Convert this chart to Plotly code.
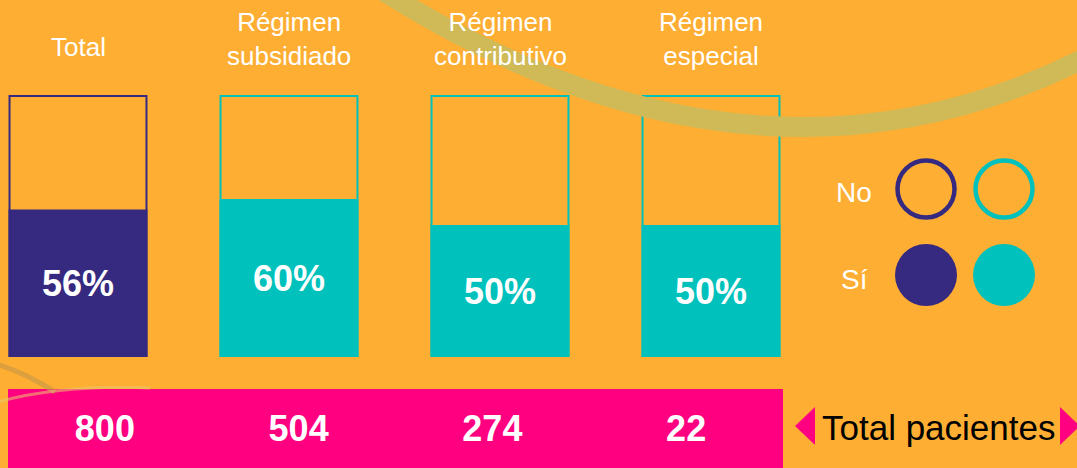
import plotly.graph_objects as go

# ---------------- data ----------------
categories = ["Total", "Régimen subsidiado", "Régimen contributivo", "Régimen especial"]
si_pct = [56, 60, 50, 50]
total_pacientes = [800, 504, 274, 22]
legend_labels = ["No", "Sí"]
footer_label = "Total pacientes"

# ---------------- styles ----------------
ORANGE = "#FDAE33"
PURPLE = "#352980"
TEAL = "#00C1BC"
PINK = "#FF0080"
BAND = "#CFBA57"
FONT = "Arial, Liberation Sans, sans-serif"
W, H = 1077, 468
bar_colors = [PURPLE, TEAL, TEAL, TEAL]

fig = go.Figure()

# filled ("Sí") portion
fig.add_trace(go.Bar(
    x=categories, y=si_pct,
    marker=dict(color=bar_colors, line=dict(color=bar_colors, width=2)),
    text=[f"{v}%" for v in si_pct], textposition="inside",
    insidetextanchor="middle", textangle=0,
    textfont=dict(family=FONT, size=36, color="white", weight="bold"),
    hoverinfo="skip", xaxis="x", yaxis="y",
))
# outline (100 %)
fig.add_trace(go.Bar(
    x=categories, y=[100] * len(categories),
    marker=dict(color="rgba(0,0,0,0)", line=dict(color=bar_colors, width=2)),
    hoverinfo="skip", xaxis="x", yaxis="y",
))

# pink band with patient totals
fig.add_trace(go.Bar(
    x=categories, y=[1] * len(categories), width=1.0,
    marker=dict(color=PINK, line=dict(color=PINK, width=1)),
    text=[str(v) for v in total_pacientes], textposition="inside",
    insidetextanchor="middle", textangle=0,
    textfont=dict(family=FONT, size=36, color="white", weight="bold"),
    hoverinfo="skip", xaxis="x2", yaxis="y2",
))

# legend circles (overlay pixel axis)
fig.add_trace(go.Scatter(
    x=[926, 1004], y=[189, 189], mode="markers",
    marker=dict(size=57, color="rgba(0,0,0,0)", line=dict(color=[PURPLE, TEAL], width=4.5)),
    hoverinfo="skip", xaxis="x3", yaxis="y3",
))
fig.add_trace(go.Scatter(
    x=[926, 1004], y=[275, 275], mode="markers",
    marker=dict(size=62, color=[PURPLE, TEAL], line=dict(width=0)),
    hoverinfo="skip", xaxis="x3", yaxis="y3",
))

# category titles
annotations = []
for i, c in enumerate(categories):
    if " " in c:
        t = c.replace(" ", "<br>", 1)
        ypx = 39
    else:
        t = c
        ypx = 47
    annotations.append(dict(
        x=c, y=(356 - ypx) / 2.6, xref="x", yref="y", text=t, showarrow=False,
        font=dict(family=FONT, size=26, color="white"), align="center",
        xanchor="center", yanchor="middle",
    ))
# legend labels
for lab, ypx in zip(legend_labels, [192, 279]):
    annotations.append(dict(
        x=854, y=ypx, xref="x3", yref="y3", text=lab, showarrow=False,
        font=dict(family=FONT, size=28, color="white"),
        xanchor="center", yanchor="middle",
    ))
annotations.append(dict(
    x=938, y=427, xref="x3", yref="y3", text=footer_label, showarrow=False,
    font=dict(family=FONT, size=35, color="black"),
    xanchor="center", yanchor="middle",
))

shapes = [
    # decorative wide band
    dict(type="path", xref="x3", yref="y3", layer="below",
         path="M 372 -16 C 560 105, 820 200, 1100 50",
         line=dict(color=BAND, width=20)),
    # thin decorative arcs bottom-left
    dict(type="path", xref="x3", yref="y3", layer="below",
         path="M -10 362 Q 25 372, 55 392",
         line=dict(color="rgba(200,150,70,0.6)", width=5)),
    dict(type="path", xref="x3", yref="y3", layer="below",
         path="M -10 404 Q 60 384, 150 388",
         line=dict(color="rgba(235,200,110,0.55)", width=3)),
    # pink arrows
    dict(type="path", xref="x3", yref="y3", layer="above",
         path="M 815 407 L 795 426 L 815 445 Z",
         fillcolor=PINK, line=dict(width=0)),
    dict(type="path", xref="x3", yref="y3", layer="above",
         path="M 1060 407 L 1080 426 L 1060 445 Z",
         fillcolor=PINK, line=dict(width=0)),
]

hidden = dict(visible=False, showgrid=False, zeroline=False, fixedrange=True)
fig.update_layout(
    width=W, height=H, margin=dict(l=0, r=0, t=0, b=0),
    paper_bgcolor=ORANGE, plot_bgcolor="rgba(0,0,0,0)",
    barmode="overlay", bargap=0.351, showlegend=False,
    xaxis=dict(hidden, type="category", domain=[0, 1],
               range=[-78 / 211, (W - 78) / 211]),
    yaxis=dict(hidden, domain=[0, 1], range=[(356 - H) / 2.6, 356 / 2.6]),
    xaxis2=dict(hidden, type="category", domain=[8 / W, 783 / W],
                range=[-0.5, 3.5], anchor="y2"),
    yaxis2=dict(hidden, domain=[0, 79 / H], range=[0, 1], anchor="x2"),
    xaxis3=dict(hidden, domain=[0, 1], range=[0, W], anchor="y3"),
    yaxis3=dict(hidden, domain=[0, 1], range=[H, 0], anchor="x3"),
    annotations=annotations, shapes=shapes,
)

fig.write_html(
    "out.html",
    config={"displayModeBar": False},
    post_script="document.body.style.margin='0px';document.body.style.overflow='hidden';",
)
